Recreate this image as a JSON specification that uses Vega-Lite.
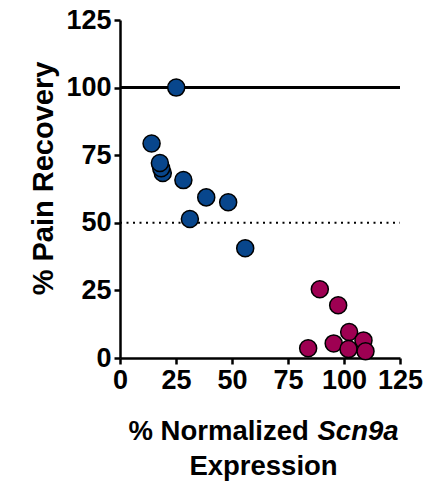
{
  "$schema": "https://vega.github.io/schema/vega-lite/v6.json",
  "width": 280,
  "height": 338,
  "autosize": {"type": "none"},
  "padding": {"left": 120, "top": 20, "right": 23, "bottom": 124},
  "background": "white",
  "config": {
    "view": {"stroke": null},
    "font": "Liberation Sans",
    "axis": {
      "grid": false,
      "domainColor": "black",
      "domainWidth": 2.5,
      "tickColor": "black",
      "tickWidth": 2.5,
      "tickSize": 6,
      "labelFont": "Liberation Sans",
      "labelFontWeight": "bold",
      "labelFontSize": 27,
      "labelColor": "black",
      "labelFlush": false,
      "labelOverlap": false,
      "titleFont": "Liberation Sans",
      "titleFontWeight": "bold",
      "titleColor": "black",
      "titleFontSize": 27.5
    }
  },
  "layer": [
    {
      "data": {"values": [{"level": 50}]},
      "mark": {"type": "rule", "stroke": "black", "strokeWidth": 2, "strokeDash": [2, 4.5]},
      "encoding": {
        "y": {"field": "level", "type": "quantitative", "scale": {"domain": [0, 125], "nice": false}, "axis": null},
        "x": {"datum": 0, "type": "quantitative", "scale": {"domain": [0, 125], "nice": false}, "axis": null},
        "x2": {"datum": 125}
      }
    },
    {
      "data": {"values": [{"level": 100}]},
      "mark": {"type": "rule", "stroke": "black", "strokeWidth": 3},
      "encoding": {
        "y": {"field": "level", "type": "quantitative", "scale": {"domain": [0, 125], "nice": false},
          "axis": {"orient": "right", "domain": false, "ticks": false, "labels": false, "title": "Expression",
            "titleAngle": 0, "titleX": -137, "titleY": 454, "titleAlign": "center", "titleBaseline": "alphabetic"}},
        "x": {"datum": 0, "type": "quantitative", "scale": {"domain": [0, 125], "nice": false},
          "axis": {"orient": "top", "domain": false, "ticks": false, "labels": false, "title": "Scn9a",
            "titleFontStyle": "italic", "titleX": 197, "titleY": 419, "titleAlign": "left", "titleBaseline": "alphabetic"}},
        "x2": {"datum": 125}
      }
    },
    {
      "data": {
        "values": [
          {"expression": 25.1, "recovery": 100, "group": "low"},
          {"expression": 14.1, "recovery": 79.3, "group": "low"},
          {"expression": 19.1, "recovery": 68.4, "group": "low"},
          {"expression": 18.4, "recovery": 70.2, "group": "low"},
          {"expression": 17.8, "recovery": 72.1, "group": "low"},
          {"expression": 28.3, "recovery": 65.8, "group": "low"},
          {"expression": 38.5, "recovery": 59.4, "group": "low"},
          {"expression": 48.3, "recovery": 57.6, "group": "low"},
          {"expression": 31.2, "recovery": 51.4, "group": "low"},
          {"expression": 55.9, "recovery": 40.6, "group": "low"},
          {"expression": 89.2, "recovery": 25.4, "group": "high"},
          {"expression": 97.4, "recovery": 19.5, "group": "high"},
          {"expression": 102.3, "recovery": 9.6, "group": "high"},
          {"expression": 108.7, "recovery": 6.5, "group": "high"},
          {"expression": 95.4, "recovery": 5.4, "group": "high"},
          {"expression": 84.0, "recovery": 3.6, "group": "high"},
          {"expression": 102.0, "recovery": 3.3, "group": "high"},
          {"expression": 109.6, "recovery": 2.5, "group": "high"}
        ]
      },
      "mark": {"type": "circle", "size": 290, "stroke": "black", "strokeWidth": 1.5, "opacity": 1},
      "encoding": {
        "x": {"field": "expression", "type": "quantitative", "scale": {"domain": [0, 125], "nice": false},
          "axis": {"orient": "bottom", "values": [0, 25, 50, 75, 100, 125], "labelPadding": 3,
            "title": "% Normalized", "titleX": 8, "titleY": 81, "titleAlign": "left", "titleBaseline": "alphabetic"}},
        "y": {"field": "recovery", "type": "quantitative", "scale": {"domain": [0, 125], "nice": false},
          "axis": {"orient": "left", "values": [0, 25, 50, 75, 100, 125], "labelPadding": 3,
            "title": "% Pain Recovery", "titleFontSize": 29, "titleAngle": -90, "titleX": -68, "titleY": 158,
            "titleAlign": "center", "titleBaseline": "alphabetic"}},
        "fill": {"field": "group", "type": "nominal", "scale": {"domain": ["low", "high"], "range": ["#08468C", "#9E0052"]}, "legend": null}
      }
    }
  ],
  "resolve": {"axis": {"x": "independent", "y": "independent"}}
}
